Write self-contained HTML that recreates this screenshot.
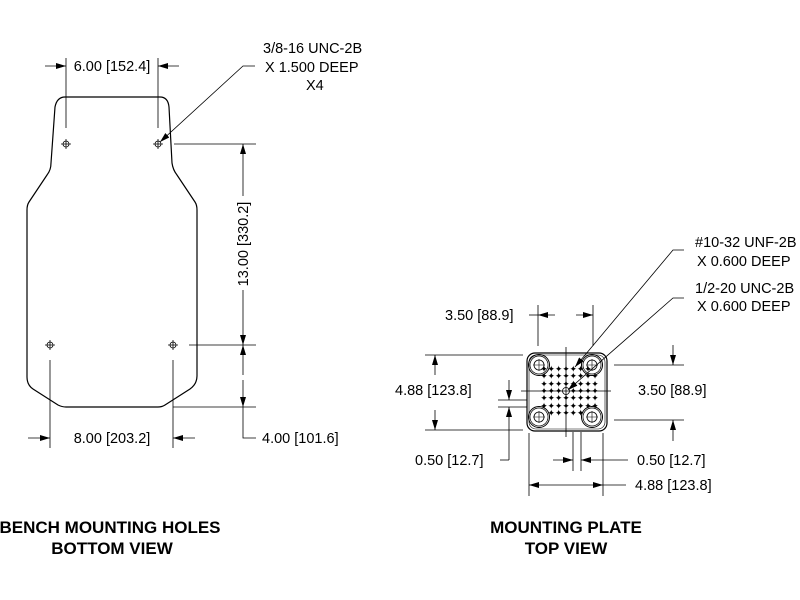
<!DOCTYPE html>
<html><head><meta charset="utf-8"><style>html,body{margin:0;padding:0;background:#fff}svg{display:block}</style></head><body>
<svg width="800" height="600" viewBox="0 0 800 600" xmlns="http://www.w3.org/2000/svg" font-family="Liberation Sans, sans-serif">
<defs>
<marker id="a" viewBox="0 0 10 6" refX="10" refY="3" markerWidth="10" markerHeight="6" orient="auto" markerUnits="userSpaceOnUse"><path d="M0,0L10,3L0,6z" fill="#000"/></marker>
<g id="h"><circle r="3" fill="none" stroke="#000" stroke-width="0.8"/><path d="M-5,0H5M0,-5V5" stroke="#000" stroke-width="0.8"/></g>
<g id="b"><circle r="10.5" fill="none" stroke="#000" stroke-width="1"/><circle r="9" fill="none" stroke="#000" stroke-width="0.7"/><circle r="5" fill="none" stroke="#000" stroke-width="0.8"/><path d="M-6,0H6M0,-6V6" stroke="#000" stroke-width="0.6"/></g>
</defs>
<g fill="none" stroke="#000" stroke-width="1">
<path d="M65,97 L160,97 Q168,97 169,107 L172,163 Q173,170 177,175 L195,202 Q197,205 197,210 L197,376 Q197,384 190,389 L165,405 Q162,407 158,407 L66,407 Q62,407 58,405 L33,389 Q27,385 27,377 L27,210 Q27,205 29,202 L47,175 Q51,170 51,163 L55,107 Q57,97 65,97Z" stroke-width="1.2"/>
</g>
<use href="#h" x="66" y="144"/><use href="#h" x="158" y="144"/><use href="#h" x="50" y="345"/><use href="#h" x="173" y="345"/>
<g stroke="#000" stroke-width="0.8" fill="none">
<path d="M66,58V128M158,58V128"/>
<path d="M45,66H66" marker-end="url(#a)"/><path d="M179,66H158" marker-end="url(#a)"/>
<path d="M50,360V448M173,360V448"/>
<path d="M28,438H50" marker-end="url(#a)"/><path d="M195,438H173" marker-end="url(#a)"/>
<path d="M174,144H256M189,345H256M173,407H256"/>
<path d="M243,196V144" marker-end="url(#a)"/><path d="M243,290V345" marker-end="url(#a)"/>
<path d="M243,375V345" marker-end="url(#a)"/><path d="M243,380V407" marker-end="url(#a)"/>
<path d="M243,407V438H256"/>
<path d="M255,66H243L160,142" marker-end="url(#a)"/>
</g>
<g font-size="14.5" fill="#000">
<text x="112" y="71" text-anchor="middle">6.00 [152.4]</text>
<text x="112" y="443" text-anchor="middle">8.00 [203.2]</text>
<text transform="translate(248,244) rotate(-90)" text-anchor="middle">13.00 [330.2]</text>
<text x="262" y="443">4.00 [101.6]</text>
<text x="263" y="53">3/8-16 UNC-2B</text>
<text x="265" y="72">X 1.500 DEEP</text>
<text x="306" y="90">X4</text>
</g>
<rect x="527" y="353" width="80" height="78" rx="8" fill="none" stroke="#000" stroke-width="1.2"/>
<rect x="529" y="355" width="76" height="74" rx="7" fill="none" stroke="#000" stroke-width="0.6"/>
<use href="#b" x="539" y="365"/><use href="#b" x="592" y="365"/><use href="#b" x="539" y="417"/><use href="#b" x="592" y="417"/>
<g fill="#000" font-size="9" text-anchor="middle">
<text x="544" y="372">✦</text><text x="551.3" y="372">✦</text><text x="558.6" y="372">✦</text><text x="566" y="372">✦</text><text x="573.3" y="372">✦</text><text x="580.6" y="372">✦</text><text x="588" y="372">✦</text>
<text x="544" y="379">✦</text><text x="551.3" y="379">✦</text><text x="558.6" y="379">✦</text><text x="566" y="379">✦</text><text x="573.3" y="379">✦</text><text x="580.6" y="379">✦</text><text x="588" y="379">✦</text><text x="595" y="379">✦</text>
<text x="544" y="387">✦</text><text x="551.3" y="387">✦</text><text x="558.6" y="387">✦</text><text x="566" y="387">✦</text><text x="573.3" y="387">✦</text><text x="580.6" y="387">✦</text><text x="588" y="387">✦</text><text x="595" y="387">✦</text>
<text x="544" y="394">✦</text><text x="551.3" y="394">✦</text><text x="558.6" y="394">✦</text><text x="573.3" y="394">✦</text><text x="580.6" y="394">✦</text><text x="588" y="394">✦</text><text x="595" y="394">✦</text>
<text x="544" y="401">✦</text><text x="551.3" y="401">✦</text><text x="558.6" y="401">✦</text><text x="566" y="401">✦</text><text x="573.3" y="401">✦</text><text x="580.6" y="401">✦</text><text x="588" y="401">✦</text><text x="595" y="401">✦</text>
<text x="544" y="409">✦</text><text x="551.3" y="409">✦</text><text x="558.6" y="409">✦</text><text x="566" y="409">✦</text><text x="573.3" y="409">✦</text><text x="580.6" y="409">✦</text><text x="588" y="409">✦</text><text x="595" y="409">✦</text>
<text x="551.3" y="416">✦</text><text x="558.6" y="416">✦</text><text x="566" y="416">✦</text><text x="573.3" y="416">✦</text><text x="580.6" y="416">✦</text>
</g>
<circle cx="566" cy="391" r="3.5" fill="#fff" stroke="#000" stroke-width="0.8"/>
<g stroke="#000" stroke-width="0.8" fill="none">
<path d="M566,347V437M521,391H611"/>
<path d="M538,305V346M593,305V346"/>
<path d="M529,315H538"/><path d="M555,315H538" marker-end="url(#a)"/><path d="M576,315H593" marker-end="url(#a)"/>
<path d="M425,355H523M425,430H523"/>
<path d="M435,375V355" marker-end="url(#a)"/><path d="M435,410V430" marker-end="url(#a)"/>
<path d="M498,400H527M498,407H527"/>
<path d="M509,380V400" marker-end="url(#a)"/><path d="M509,460V407" marker-end="url(#a)"/>
<path d="M509,460H500"/>
<path d="M614,365H684M614,420H684"/>
<path d="M673,345V365" marker-end="url(#a)"/><path d="M673,441V420" marker-end="url(#a)"/>
<path d="M573,432V471M581,432V471"/>
<path d="M553,460H573" marker-end="url(#a)"/><path d="M628,460H581" marker-end="url(#a)"/>
<path d="M529,433V496M603,433V496"/>
<path d="M566,485H529" marker-end="url(#a)"/><path d="M566,485H603" marker-end="url(#a)"/><path d="M603,485H626"/>
<path d="M684,250H673L575,367" marker-end="url(#a)"/>
<path d="M684,298H673L568,390" marker-end="url(#a)"/>
</g>
<g font-size="14.5" fill="#000">
<text x="445" y="320">3.50 [88.9]</text>
<text x="395" y="395">4.88 [123.8]</text>
<text x="415" y="465">0.50 [12.7]</text>
<text x="638" y="395">3.50 [88.9]</text>
<text x="637" y="465">0.50 [12.7]</text>
<text x="635" y="490">4.88 [123.8]</text>
<text x="695" y="247">#10-32 UNF-2B</text>
<text x="697" y="266">X 0.600 DEEP</text>
<text x="695" y="293">1/2-20 UNC-2B</text>
<text x="697" y="311">X 0.600 DEEP</text>
</g>
<g font-size="17" font-weight="bold" fill="#000" text-anchor="middle">
<text x="110" y="533">BENCH MOUNTING HOLES</text>
<text x="112" y="554">BOTTOM VIEW</text>
<text x="566" y="533">MOUNTING PLATE</text>
<text x="566" y="554">TOP VIEW</text>
</g>
</svg>
</body></html>
